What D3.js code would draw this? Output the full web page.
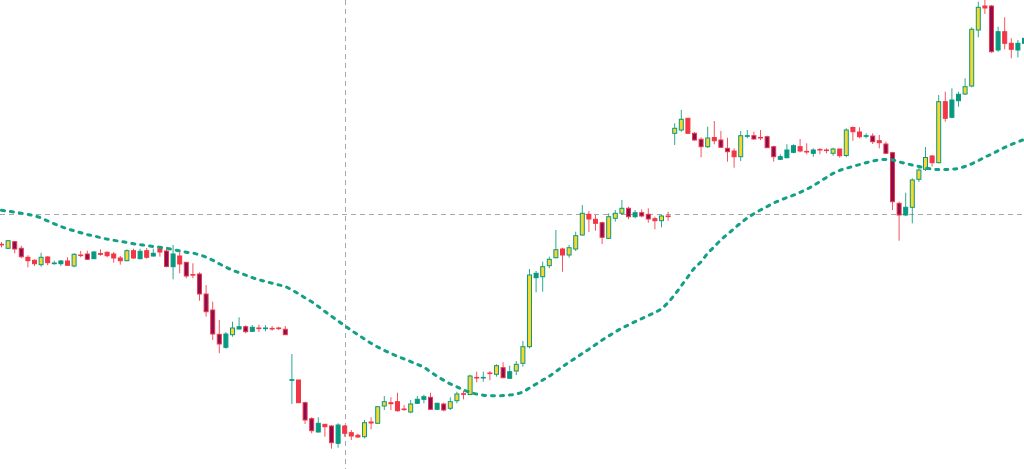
<!DOCTYPE html>
<html>
  <head>
    <meta charset="utf-8" />
    <title>Candlestick chart with moving average</title>
    <script src="https://d3js.org/d3.v7.min.js"></script>
    <style>
      html, body { margin: 0; padding: 0; background: #fff; overflow: hidden; }
      svg { display: block; }
      .crosshair { stroke: #a8a8a8; stroke-width: 1; stroke-dasharray: 5,4; fill: none; }
      .ma { fill: none; stroke: #13a085; stroke-width: 3; stroke-dasharray: 3,6; stroke-linecap: round; }
    </style>
  </head>
  <body>
    <svg width="1024" height="469"></svg>
    <script>
      // OHLC per bar
      const open = [
        255.7, 251.7, 258.3, 251.7, 242.7, 239.7, 235.3, 243, 236.3, 236.3,
        239, 234, 245, 246, 241.3, 246.5, 247.7, 246, 242, 239.3,
        249.3, 241.3, 249.3, 244, 251.3, 249, 233.3, 244, 237.7, 225.5,
        226, 206, 190, 165.7, 152.7, 165.3, 171, 173.3, 168.7, 172,
        171.4, 171.6, 172, 170.7, 119.7, 120, 97.3, 81.3, 68, 75.7,
        74, 56.7, 74, 67.3, 64.7, 63.3, 78, 76.7, 94, 97.3,
        98.3, 91, 88, 96.7, 100.7, 102.7, 90.7, 96, 91.7, 99.3,
        106.3, 105.5, 122.6, 122, 127, 125.7, 132.3, 121.7, 129, 136.7,
        153.3, 222.3, 223.3, 234.3, 242.3, 251, 245, 251, 265, 285.7,
        280.7, 277.3, 261.7, 281.7, 286.7, 291.7, 283.3, 287.3, 285.7, 281.3,
        279.3, 284, 366.7, 370, 381.7, 366.7, 360.7, 353.3, 362.5, 360,
        351.7, 349, 343.3, 363.7, 364.3, 362.6, 363.3, 353.3, 340.7, 342.3,
        347.7, 353.3, 348.6, 346.7, 350.6, 350, 346.7, 351, 344.5, 372.5,
        368, 363.7, 364, 359.3, 356, 347.3, 296.7, 285, 292.7, 320.7,
        330.7, 344, 337.3, 398.3, 382.7, 399.3, 406, 414, 470, 494,
        494, 450, 468.3, 456.7, 450, 456.7
      ];
      const high = [
        258, 260, 259, 254.3, 244.7, 240.7, 247.3, 244, 239.3, 240,
        242.7, 246.7, 249, 249.3, 249, 250.7, 248.7, 248, 244, 250.7,
        251.3, 251.3, 252, 251.3, 251.7, 251.3, 255, 248, 237.7, 236.7,
        227.7, 215, 198.3, 180, 168, 178.3, 182.7, 174.7, 175, 175.3,
        174.7, 174, 173.3, 174, 146, 120, 98.3, 82.7, 82.7, 75.7,
        75, 76.7, 75, 70, 66.3, 80, 82.7, 94, 104, 102.7,
        107.3, 95, 100, 104, 105.3, 107.3, 97.3, 97.3, 102.7, 108.3,
        109.3, 125.3, 128.3, 128.3, 129, 135.7, 137.7, 134.3, 139, 159,
        231, 229, 238.3, 243.3, 270, 252.3, 255, 268.3, 295, 289,
        285, 278.3, 286.7, 290, 300, 293.3, 290, 290.7, 291.7, 283.3,
        285, 288.3, 376.7, 390, 382, 368, 362.7, 373.3, 379, 369,
        362.3, 351.7, 369, 370, 368.3, 370, 364.3, 354.3, 345.7, 355.7,
        355.7, 361, 356.7, 351.7, 351.7, 351.7, 352.3, 351, 371.7, 373.7,
        372.7, 366.7, 366.7, 365, 358.3, 348.3, 298.3, 307.3, 321.7, 335,
        353, 345, 405, 408.3, 411.7, 408.3, 421.7, 472.7, 498.3, 500,
        495, 473.3, 482.7, 461.7, 460, 464
      ];
      const low = [
        252.5, 251, 246.7, 241.7, 232.7, 234, 233.3, 234.7, 235.3, 234,
        234.7, 232.7, 242.7, 240, 241, 244.3, 242.7, 237.3, 235.3, 238.7,
        241.3, 240.7, 241.3, 243.3, 243.3, 232.7, 220.7, 226.7, 221.7, 221.7,
        199.3, 183.3, 160, 146.7, 151.3, 163.3, 170.7, 166.7, 168, 168,
        168.7, 169.3, 170, 165, 96, 97, 76, 66.7, 67.3, 63.3,
        51.3, 52.3, 63.3, 60, 62, 61.7, 70.7, 76, 90, 90,
        88.3, 89.3, 86.7, 96, 96.7, 90, 90, 88.7, 90, 96.7,
        100.7, 105, 117.7, 118.3, 119.7, 123.3, 121.7, 121.5, 125, 133.3,
        151.7, 207.7, 208.3, 231.7, 241.7, 228.3, 242.3, 249, 264.3, 268,
        269.3, 256, 261, 278.3, 285, 280.7, 281.7, 282.7, 277.3, 270.7,
        272.7, 279.3, 355, 368.3, 366.5, 359.3, 342.7, 352, 355.7, 352.3,
        338.3, 332.3, 339, 361.7, 360.3, 360, 352, 338.3, 340, 341.7,
        346.7, 347.7, 345.7, 343.3, 345.7, 346.7, 344.3, 342.3, 342.7, 359.3,
        361.7, 361.7, 356, 351.7, 346, 290, 259.3, 284, 276.7, 318,
        329, 333.5, 336.7, 378.3, 381.7, 393.3, 405, 412.7, 462.7, 486,
        447.3, 448.3, 450.7, 441.7, 442.7, 455
      ];
      const close = [
        255.3, 259.3, 251, 243.3, 239.3, 236.3, 242.7, 237.3, 237, 239,
        234.7, 245.7, 244.5, 240.7, 248, 245.7, 244.3, 242, 239.3, 249.3,
        242, 248.7, 242.7, 246.7, 248, 233.5, 246, 236, 224, 225,
        206, 188.3, 166, 156, 166, 172, 173.3, 168.3, 172.7, 171.4,
        172, 171, 171.4, 165.3, 120.3, 97.3, 80, 69.3, 76.7, 73.3,
        57.3, 75, 66.7, 64, 63, 77.3, 77, 93.3, 98.3, 96.3,
        89.3, 90.4, 96, 100.7, 103.3, 90.7, 96.7, 90, 98.3, 106,
        105.7, 124, 122, 122.6, 126.4, 134.3, 122.3, 128.3, 135.7, 153.3,
        225, 226.7, 233.3, 240.7, 250.3, 245, 252.3, 264.3, 286.7, 281,
        276.7, 262.7, 283.3, 286.7, 291.7, 283.3, 287.3, 284, 281, 279.3,
        284, 283.4, 371.7, 380.7, 366.7, 360, 353.3, 362, 359.3, 352.7,
        348.3, 343.3, 364.3, 364.3, 361, 362, 352.3, 343.3, 343.3, 350,
        354.3, 349, 348, 350, 350, 349.4, 351, 344.3, 370, 368.3,
        363.3, 364.3, 358.3, 357.3, 346.7, 298.3, 285, 292.7, 320, 330,
        342.5, 337.3, 398.3, 381.7, 400, 405.7, 413.3, 470.7, 492.7, 492,
        448.3, 468.3, 456.7, 450.7, 456.7, 461.7
      ];
      // bars drawn in the alternate (yellow / maroon) fill
      const highlight = [
        0,1,1,1,0,0,1,0,0,0, 0,1,0,1,0,0,0,0,0,1,
        0,0,0,0,0,1,0,0,1,0, 1,1,1,1,0,1,0,1,0,0,
        0,0,0,1,0,0,1,1,0,0, 1,0,0,0,0,1,0,1,1,0,
        0,0,1,0,0,1,0,1,1,1, 0,1,0,0,0,1,1,0,1,1,
        1,0,1,1,1,0,1,1,1,0, 0,1,1,1,1,1,0,1,1,0,
        1,0,1,1,0,1,1,1,0,1, 1,0,1,0,1,0,1,1,0,0,
        0,0,0,0,0,0,1,0,1,0, 0,0,1,0,1,1,1,0,1,1,
        1,0,1,0,0,0,1,1,1,0, 1,0,0,0,0,0
      ];
      // moving average value per bar
      const ma = [
        289.7, 288.8, 287.8, 286.8, 285.6, 284.2, 282.1, 279.1, 276.2, 273.5,
        271.2, 269.2, 267.3, 265.4, 264, 262.4, 260.9, 259.7, 258.6, 257.5,
        256.3, 255.3, 254.5, 253.5, 252.7, 251.8, 250.4, 249.1, 247.8, 246.9,
        245.1, 242.8, 239.8, 236.2, 232.8, 229.8, 227.3, 224.8, 222.4, 220.3,
        218.5, 216.8, 215.1, 213.5, 210, 206.3, 202.2, 198.2, 193.5, 188.5,
        183.7, 179, 174.2, 169.7, 165.2, 161, 156.7, 153, 149.6, 146.5,
        143.7, 141, 138.4, 135.6, 132.7, 128.1, 123.8, 119.8, 116.1, 113.2,
        110.1, 107.8, 105.9, 104.8, 104.3, 104.2, 104.4, 105, 106, 108.2,
        112, 116, 119.9, 123.8, 128.5, 133.3, 137.8, 142, 146.5, 150.8,
        155.3, 159.9, 164, 168.1, 171.8, 175.1, 178.3, 181.4, 184.5, 187.5,
        191.3, 197.5, 205.3, 214.2, 223.2, 232, 238.2, 246.7, 253.3, 260.1,
        265.8, 271.4, 277, 282, 286.2, 290, 293.5, 297, 299.8, 302.4,
        304.8, 307.7, 310.8, 314.3, 318.4, 322.6, 326.6, 329.6, 331.7, 333.6,
        335.4, 337.3, 338.9, 340.2, 340.6, 340, 338.2, 336.5, 334.9, 333.5,
        332.1, 331, 330.4, 330.5, 330.9, 331.6, 333.6, 336.2, 339.3, 343,
        345.8, 349.3, 352.6, 355.5, 358.2, 360.7
      ];
      const crosshairIndex = 52;
      const crosshairPrice = 286;

      const svg = d3.select("svg");
      const width = +svg.attr("width");
      const height = +svg.attr("height");

      const data = open.map((o, i) => ({
        i: i,
        open: o,
        high: high[i],
        low: low[i],
        close: close[i],
        alt: highlight[i] === 1,
        ma: ma[i],
      }));

      const x = d3.scaleLinear().domain([0, data.length - 1]).range([1.5, 1024.5]);
      const y = d3.scaleLinear().domain([31, 500]).range([height, 0]);

      const green = "#089981";
      const red = "#f23645";
      const yellow = "#f9d62e";
      const maroon = "#880e4f";

      // crosshair
      svg.append("line")
        .attr("class", "crosshair")
        .attr("x1", Math.round(x(crosshairIndex)) + 0.5)
        .attr("x2", Math.round(x(crosshairIndex)) + 0.5)
        .attr("y1", 0)
        .attr("y2", height);
      svg.append("line")
        .attr("class", "crosshair")
        .attr("x1", 0)
        .attr("x2", width)
        .attr("y1", Math.round(y(crosshairPrice)) + 0.5)
        .attr("y2", Math.round(y(crosshairPrice)) + 0.5);

      // candles
      const bar = svg.append("g")
        .selectAll("g")
        .data(data)
        .join("g")
        .attr("transform", (d) => "translate(" + x(d.i) + ",0)");

      bar.append("line")
        .attr("y1", (d) => y(d.high))
        .attr("y2", (d) => y(d.low))
        .attr("stroke", (d) => (d.close >= d.open ? green : red))
        .attr("stroke-opacity", 0.85)
        .attr("stroke-width", 1);

      bar.append("rect")
        .attr("x", -2)
        .attr("width", 4)
        .attr("y", (d) => y(Math.max(d.open, d.close)))
        .attr("height", (d) => Math.max(0.6, Math.abs(y(d.open) - y(d.close))))
        .attr("fill", (d) => {
          const up = d.close >= d.open;
          if (up) return d.alt ? yellow : green;
          return d.alt ? maroon : red;
        })
        .attr("stroke", (d) => (d.close >= d.open ? green : red))
        .attr("stroke-width", 1);

      // moving average
      const line = d3.line()
        .x((d) => x(d.i))
        .y((d) => y(d.ma))
        .curve(d3.curveMonotoneX);

      svg.append("path")
        .datum(data)
        .attr("class", "ma")
        .attr("d", line);
    </script>
  </body>
</html>
